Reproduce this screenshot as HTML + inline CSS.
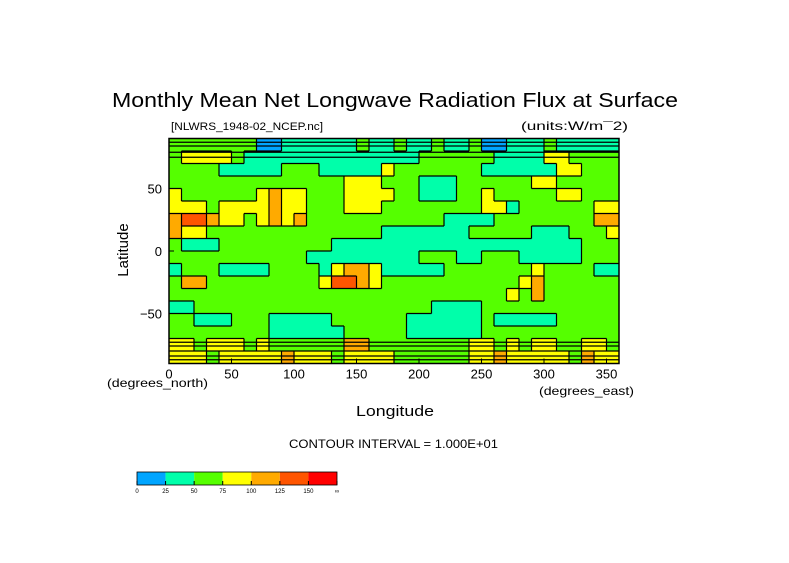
<!DOCTYPE html>
<html><head><meta charset="utf-8"><style>
body{margin:0;background:#fff}
svg text{font-family:"Liberation Sans",sans-serif;fill:#000}
</style></head><body>
<svg id="chart" width="789" height="558" viewBox="0 0 789 558">
<text x="112" y="107" font-size="20" textLength="566" lengthAdjust="spacingAndGlyphs">Monthly Mean Net Longwave Radiation Flux at Surface</text>
<text x="171" y="130" font-size="11" textLength="152" lengthAdjust="spacingAndGlyphs">[NLWRS_1948-02_NCEP.nc]</text>
<text x="521" y="130" font-size="12" textLength="107" lengthAdjust="spacingAndGlyphs">(units:W/m¯2)</text>
<g id="map"></g>
<g id="axes"></g>
<text x="107" y="387" font-size="12" textLength="101" lengthAdjust="spacingAndGlyphs">(degrees_north)</text>
<text x="539" y="395" font-size="12" textLength="95" lengthAdjust="spacingAndGlyphs">(degrees_east)</text>
<text x="356" y="416" font-size="15" textLength="78" lengthAdjust="spacingAndGlyphs">Longitude</text>
<text x="128" y="250" font-size="15" text-anchor="middle" transform="rotate(-90 128 250)">Latitude</text>
<text x="289" y="448" font-size="12" textLength="209" lengthAdjust="spacingAndGlyphs">CONTOUR INTERVAL = 1.000E+01</text>
<g id="cbar"></g>
</svg>
<script>
const lonTicks=[0,50,100,150,200,250,300,350];
const latTicks=[50,0,-50];
const polarContourLats=[87,84,79,75,-73,-76,-80,-84,-87];
const levelLabels=["0","25","50","75","100","125","150","∞"];
const levelColors=["#00a5ff","#00ffaa","#55ff00","#ffff00","#ffaa00","#ff5500","#ff0000"];
const r00=[60,60,60,60,60,60,60,15,15,40,40,40,40,40,40,60,40,40,60,40,40,60,40,40,60,15,15,40,40,40,60,40,40,40,40,40];
const r01=[60,85,85,85,85,60,40,40,40,40,40,40,40,40,40,40,40,40,40,40,60,60,60,60,60,60,40,40,40,40,85,85,60,60,60,60];
const r02=[60,60,60,60,40,40,40,40,40,60,60,60,40,40,40,40,40,85,60,60,60,60,60,60,60,40,40,40,40,40,40,85,85,60,60,60];
const r03=[60,60,60,60,60,60,60,60,60,60,60,60,60,60,85,85,85,60,60,60,40,40,40,60,60,60,60,60,60,85,85,60,60,60,60,60];
const r04=[85,60,60,60,60,60,60,85,110,85,85,60,60,60,85,85,85,85,60,60,40,40,40,60,60,85,60,60,60,60,60,85,85,60,60,60];
const r05=[85,85,85,60,85,85,85,85,110,85,85,60,60,60,85,85,85,60,60,60,60,60,60,60,60,85,85,40,60,60,60,60,60,60,85,85];
const r06=[110,135,135,110,85,85,60,85,110,85,110,60,60,60,60,60,60,60,60,60,60,60,40,40,40,40,60,60,60,60,60,60,60,60,110,110];
const r07=[110,85,85,60,60,60,60,60,60,60,60,60,60,60,60,60,60,40,40,40,40,40,40,40,60,60,60,60,60,40,40,40,60,60,60,85];
const r08=[60,40,40,40,60,60,60,60,60,60,60,60,60,40,40,40,40,40,40,40,40,40,40,40,40,40,40,40,40,40,40,40,40,60,60,60];
const r09=[60,60,60,60,60,60,60,60,60,60,60,40,40,40,40,40,40,40,40,40,60,60,60,40,40,60,60,60,40,40,40,40,40,60,60,60];
const r10=[40,60,60,60,40,40,40,40,60,60,60,60,40,85,110,110,85,40,40,40,40,40,60,60,60,60,60,60,60,85,60,60,60,60,40,40];
const r11=[60,110,110,60,60,60,60,60,60,60,60,60,85,135,135,110,85,60,60,60,60,60,60,60,60,60,60,60,85,110,60,60,60,60,60,60];
const r12=[60,60,60,60,60,60,60,60,60,60,60,60,60,60,60,60,60,60,60,60,60,60,60,60,60,60,60,85,60,110,60,60,60,60,60,60];
const r13=[40,40,60,60,60,60,60,60,60,60,60,60,60,60,60,60,60,60,60,60,60,40,40,40,40,60,60,60,60,60,60,60,60,60,60,60];
const r14=[60,60,40,40,40,60,60,60,40,40,40,40,40,60,60,60,60,60,60,40,40,40,40,40,40,60,40,40,40,40,40,60,60,60,60,60];
const r15=[60,60,60,60,60,60,60,60,40,40,40,40,40,40,60,60,60,60,60,40,40,40,40,40,40,60,60,60,60,60,60,60,60,60,60,60];
const r16=[85,85,60,85,85,85,60,85,60,60,60,60,60,60,110,110,60,60,60,60,60,60,60,60,85,85,60,85,60,85,85,60,60,85,85,60];
const r17=[85,85,85,60,85,85,85,85,85,110,85,85,85,60,85,85,85,85,60,60,60,60,60,60,85,85,110,85,85,85,85,85,60,110,85,85];
const grid=[r00,r01,r02,r03,r04,r05,r06,r07,r08,r09,r10,r11,r12,r13,r14,r15,r16,r17];
const NS="http://www.w3.org/2000/svg";
const X0=169,X1=619,Y0=138.5,Y1=363.5;
function xs(lon){return X0+lon*(X1-X0)/360;}
function ys(lat){return Y0+(90-lat)*(Y1-Y0)/180;}
function lvl(v){return Math.min(6,Math.max(0,Math.floor(v/25)));}
function mk(tag,attrs,parent){const e=document.createElementNS(NS,tag);for(const k in attrs)e.setAttribute(k,attrs[k]);parent.appendChild(e);return e;}
const map=document.getElementById('map');
const nr=grid.length,nc=grid[0].length,dl=360/nc,dp=180/nr;
for(let i=0;i<nr;i++)for(let j=0;j<nc;j++){
  const c=mk('rect',{x:xs(j*dl),y:ys(90-i*dp),width:xs((j+1)*dl)-xs(j*dl)+0.3,height:ys(90-(i+1)*dp)-ys(90-i*dp)+0.3,fill:levelColors[lvl(grid[i][j])]},map);
  
  
}
let d='';
for(let i=0;i<nr;i++)for(let j=0;j<nc;j++){
  const v=lvl(grid[i][j]);
  if(j<nc-1&&lvl(grid[i][j+1])!==v)d+=`M${xs((j+1)*dl)},${ys(90-i*dp)}V${ys(90-(i+1)*dp)}`;
  if(i<nr-1&&lvl(grid[i+1][j])!==v)d+=`M${xs(j*dl)},${ys(90-(i+1)*dp)}H${xs((j+1)*dl)}`;
}
polarContourLats.forEach(l=>{d+=`M${X0},${ys(l)}H${X1}`;});
const cl=mk('path',{d:d,stroke:'#000','stroke-width':1.2,fill:'none'},map);


const ax=document.getElementById('axes');
const fr=mk('rect',{x:X0,y:Y0,width:X1-X0,height:Y1-Y0,fill:'none',stroke:'#000','stroke-width':1.5},ax);


lonTicks.forEach(t=>{
  mk('line',{x1:xs(t),x2:xs(t),y1:Y1,y2:Y1-5,stroke:'#000'},ax);
  const tx=mk('text',{x:xs(t),y:Y1+15,'font-size':13,'text-anchor':'middle'},ax);
  tx.textContent=t;
  
  
});
latTicks.forEach(t=>{
  mk('line',{x1:X0,x2:X0+5,y1:ys(t),y2:ys(t),stroke:'#000'},ax);
  const tx=mk('text',{x:X0-7,y:ys(t)+5,'font-size':13,'text-anchor':'end'},ax);
  tx.textContent=t===-50?'−50':t;
  
  
});
const cb=document.getElementById('cbar');
const cbx=137,cbw=200/levelColors.length;
levelColors.forEach((c,k)=>{
  const r=mk('rect',{x:cbx+k*cbw,y:472,width:cbw,height:13,fill:c},cb);
  
  
});
mk('rect',{x:cbx,y:472,width:200,height:13,fill:'none',stroke:'#000','stroke-width':0.8},cb);
levelLabels.forEach((l,k)=>{
  mk('line',{x1:cbx+k*cbw,x2:cbx+k*cbw,y1:481,y2:485,stroke:'#000'},cb);
  const tx=mk('text',{x:cbx+k*cbw,y:493,'font-size':6,'text-anchor':'middle'},cb);
  tx.textContent=l;
  
  
});
</script>
</body></html>
